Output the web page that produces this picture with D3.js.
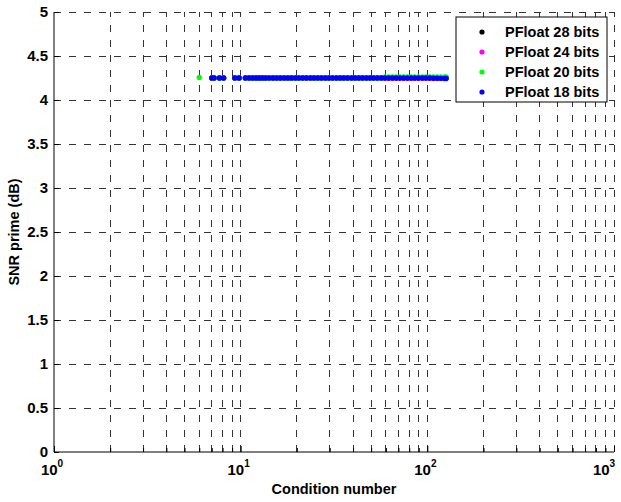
<!DOCTYPE html>
<html>
<head>
<meta charset="utf-8">
<script src="https://cdn.jsdelivr.net/npm/d3@7"></script>
<style>
  body { margin: 0; background: #fff; }
  text { font-family: "Liberation Sans", Arial, sans-serif; font-weight: bold; }
</style>
</head>
<body>
<div id="chart"></div>
<script>
// condition numbers (x) shared by all series
var condNumbers = [6, 7.0, 7.2, 7.7, 8.1, 9.3, 9.8, 10.6, 11.1, 11.6, 12.1, 12.6, 13.1, 13.6, 14.2,
  14.9, 15.6, 16.3, 17.1, 17.9, 18.7, 19.6, 20.5, 21.5, 22.5, 23.6, 24.7, 25.9, 27.1, 28.4,
  29.7, 31.1, 32.6, 34.1, 35.7, 37.4, 39.2, 41, 43, 45, 47.1, 49.3, 51.6, 54, 56.6, 59.3,
  62.1, 65, 68, 71.2, 74.6, 78.1, 81.8, 85.6, 89.6, 93.9, 98.3, 103, 107.8, 112.9, 118.2, 123.8, 126];

var seriesNames = ["PFloat 28 bits", "PFloat 24 bits", "PFloat 20 bits", "PFloat 18 bits"];
var seriesColors = ["#000000", "#ff00ff", "#00ff00", "#0000ff"];

var snr28 = [null, 4.25, 4.25, 4.25, 4.25, 4.25, 4.25, 4.25, 4.25, 4.25, 4.25, 4.25, 4.25, 4.25, 4.25,
  4.25, 4.25, 4.25, 4.25, 4.25, 4.25, 4.25, 4.25, 4.25, 4.25, 4.25, 4.25, 4.25, 4.25, 4.25,
  4.25, 4.25, 4.25, 4.25, 4.25, 4.25, 4.25, 4.25, 4.25, 4.25, 4.25, 4.25, 4.25, 4.25, 4.25, 4.25,
  4.25, 4.25, 4.25, 4.25, 4.25, 4.25, 4.25, 4.25, 4.25, 4.25, 4.25, 4.25, 4.25, 4.25, 4.25, 4.25, 4.25];
var snr24 = snr28.slice();
var snr20 = [4.255, 4.25, 4.25, 4.25, 4.25, 4.25, 4.25, 4.25, 4.25, 4.25, 4.25, 4.25, 4.25, 4.25, 4.25,
  4.25, 4.25, 4.25, 4.25, 4.25, 4.25, 4.25, 4.25, 4.25, 4.25, 4.25, 4.25, 4.25, 4.25, 4.25,
  4.25, 4.25, 4.25, 4.25, 4.25, 4.25, 4.25, 4.25, 4.25, 4.25, 4.25, 4.25, 4.25, 4.25, 4.25, 4.263,
  4.263, 4.263, 4.263, 4.263, 4.263, 4.263, 4.263, 4.263, 4.263, 4.263, 4.263, 4.263, 4.263, 4.263, 4.263, 4.263, 4.262];
var snr18 = [null, 4.25, 4.25, 4.25, 4.25, 4.25, 4.25, 4.25, 4.25, 4.25, 4.25, 4.25, 4.25, 4.25, 4.25,
  4.25, 4.25, 4.25, 4.25, 4.25, 4.25, 4.25, 4.25, 4.25, 4.25, 4.25, 4.25, 4.25, 4.25, 4.25,
  4.25, 4.25, 4.25, 4.25, 4.25, 4.25, 4.25, 4.25, 4.25, 4.25, 4.25, 4.25, 4.25, 4.25, 4.25, 4.25,
  4.25, 4.25, 4.25, 4.25, 4.25, 4.25, 4.25, 4.25, 4.25, 4.25, 4.25, 4.25, 4.248, 4.248, 4.246, 4.245, 4.244];

var yTicks = [0, 0.5, 1, 1.5, 2, 2.5, 3, 3.5, 4, 4.5, 5];
var yTickLabels = ["0", "0.5", "1", "1.5", "2", "2.5", "3", "3.5", "4", "4.5", "5"];
var xDecades = [1, 10, 100, 1000];
var xDecadeExps = ["0", "1", "2", "3"];

var width = 621, height = 502;
var margin = {left: 54, right: 7, top: 12, bottom: 50};

var svg = d3.select("#chart").append("svg")
  .attr("width", width)
  .attr("height", height);

var x = d3.scaleLog().domain([1, 1000]).range([margin.left, width - margin.right]);
var y = d3.scaleLinear().domain([0, 5]).range([height - margin.bottom, margin.top]);

// minor + major log ticks for the grid
var xGrid = x.ticks();
var grid = svg.append("g");

grid.selectAll(".vg")
  .data(xGrid.filter(function(d){ return d > 1; }))
  .enter().append("line")
  .attr("x1", function(d){ return x(d); })
  .attr("x2", function(d){ return x(d); })
  .attr("y1", y(0))
  .attr("y2", y(5))
  .attr("stroke", "#333")
  .attr("stroke-width", 1)
  .attr("stroke-dasharray", "7,8")
  .attr("shape-rendering", "crispEdges");

grid.selectAll(".hg")
  .data(yTicks.filter(function(d){ return d > 0; }))
  .enter().append("line")
  .attr("x1", x(1))
  .attr("x2", x(1000))
  .attr("y1", function(d){ return y(d); })
  .attr("y2", function(d){ return y(d); })
  .attr("stroke", "#333")
  .attr("stroke-width", 1)
  .attr("stroke-dasharray", "7,8")
  .attr("shape-rendering", "crispEdges");

// points
var allSeries = [snr28, snr24, snr20, snr18];
allSeries.forEach(function(vals, i){
  var pts = condNumbers.map(function(c, j){ return {c: c, v: vals[j]}; })
    .filter(function(d){ return d.v != null; });
  svg.append("g").selectAll("circle")
    .data(pts)
    .enter().append("circle")
    .attr("cx", function(d){ return x(d.c); })
    .attr("cy", function(d){ return y(d.v); })
    .attr("r", 2.7)
    .attr("fill", seriesColors[i]);
});

// axes (ticks inward, MATLAB style)
var yAxis = svg.append("g")
  .attr("transform", "translate(" + x(1) + ",0)")
  .call(d3.axisRight(y).tickValues(yTicks).tickSize(5).tickFormat(""));
yAxis.select(".domain").attr("stroke", "#000").attr("d", "M0," + y(5) + "V" + y(0));

var xAxis = svg.append("g")
  .attr("transform", "translate(0," + y(0) + ")")
  .call(d3.axisTop(x).tickValues(xGrid).tickSize(4).tickFormat(""));
xAxis.select(".domain").attr("d", "M" + x(1) + ",0H" + x(1000));
xAxis.selectAll(".tick line").filter(function(d){ return xDecades.indexOf(d) >= 0; }).attr("y2", -6);

// y tick labels
svg.append("g").selectAll("text")
  .data(yTicks)
  .enter().append("text")
  .attr("x", x(1) - 6)
  .attr("y", function(d){ return y(d); })
  .attr("dy", "0.36em")
  .attr("text-anchor", "end")
  .style("font-size", "15px")
  .text(function(d, i){ return yTickLabels[i]; });

// x tick labels 10^n (last one kept inside the window)
var xl = svg.append("g").selectAll("text")
  .data(xDecades)
  .enter().append("text")
  .attr("x", function(d){ return Math.min(x(d) - 2, width - 17); })
  .attr("y", y(0) + 23)
  .attr("text-anchor", "middle")
  .style("font-size", "15px");
xl.append("tspan").text("10");
xl.append("tspan")
  .attr("dy", -8)
  .style("font-size", "10px")
  .text(function(d, i){ return xDecadeExps[i]; });

// axis titles
svg.append("text")
  .attr("x", (x(1) + x(1000)) / 2)
  .attr("y", 494)
  .attr("text-anchor", "middle")
  .style("font-size", "14.5px")
  .text("Condition number");

svg.append("text")
  .attr("transform", "translate(19," + (y(2.5)) + ") rotate(-90)")
  .attr("text-anchor", "middle")
  .style("font-size", "14.5px")
  .text("SNR prime (dB)");

// legend
var legend = svg.append("g").attr("transform", "translate(456,17)");
legend.append("rect")
  .attr("width", 151)
  .attr("height", 85)
  .attr("fill", "#fff")
  .attr("stroke", "#000")
  .attr("stroke-width", 1);
seriesNames.forEach(function(name, i){
  var row = legend.append("g").attr("transform", "translate(0," + (15 + i * 20) + ")");
  row.append("circle").attr("cx", 26).attr("cy", 0).attr("r", 2.6).attr("fill", seriesColors[i]);
  row.append("text")
    .attr("x", 49)
    .attr("y", 0)
    .attr("dy", "0.36em")
    .style("font-size", "14.5px")
    .text(name);
});
</script>
</body>
</html>
